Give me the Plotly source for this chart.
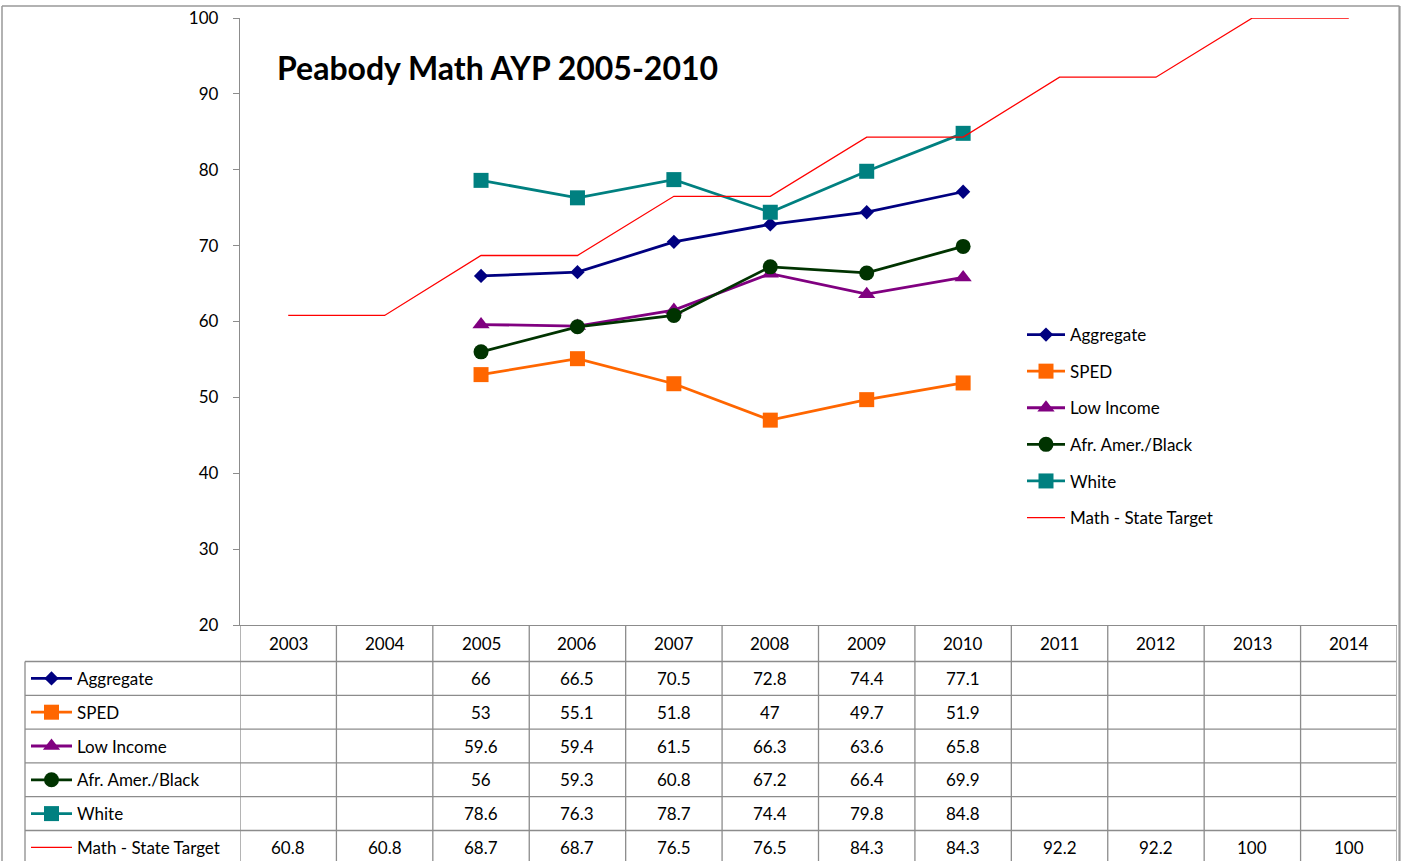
import plotly.graph_objects as go

# ---------------- data ----------------
years = ["2003", "2004", "2005", "2006", "2007", "2008", "2009", "2010",
         "2011", "2012", "2013", "2014"]
aggregate = [None, None, 66, 66.5, 70.5, 72.8, 74.4, 77.1, None, None, None, None]
sped = [None, None, 53, 55.1, 51.8, 47, 49.7, 51.9, None, None, None, None]
low_income = [None, None, 59.6, 59.4, 61.5, 66.3, 63.6, 65.8, None, None, None, None]
afr_amer = [None, None, 56, 59.3, 60.8, 67.2, 66.4, 69.9, None, None, None, None]
white = [None, None, 78.6, 76.3, 78.7, 74.4, 79.8, 84.8, None, None, None, None]
state_target = [60.8, 60.8, 68.7, 68.7, 76.5, 76.5, 84.3, 84.3, 92.2, 92.2, 100, 100]

series_names = ["Aggregate", "SPED", "Low Income", "Afr. Amer./Black", "White",
                "Math - State Target"]
series_values = [aggregate, sped, low_income, afr_amer, white, state_target]
y_ticks = [20, 30, 40, 50, 60, 70, 80, 90, 100]
title_text = "Peabody Math AYP 2005-2010"

# ---------------- styles ----------------
colors = ["#000080", "#FF6600", "#800080", "#003300", "#008080", "#FF0000"]
symbols = ["diamond", "square", "triangle-up", "circle", "square", None]
msizes = [11, 15, 15, 15, 15, 0]
lwidths = [2.8, 2.8, 2.8, 2.8, 2.8, 1.3]

W, H = 1403, 861
FONT = "Lato"
GRID = "#8C8C8C"


def py(p):
    return 1 - p / H


plot_left, plot_right, plot_top, plot_bottom = 240, 1397, 18, 625
header_bottom = 661.5
row_h = 33.8
table_left = 25
table_right = 1396

fig = go.Figure()

# main series
for name, vals, c, s, ms, lw in zip(series_names, series_values, colors, symbols,
                                    msizes, lwidths):
    if s is None:
        fig.add_trace(go.Scatter(x=years, y=vals, name=name, mode="lines",
                                 line=dict(color=c, width=lw),
                                 legendgroup=name, hoverinfo="skip"))
    else:
        fig.add_trace(go.Scatter(x=years, y=vals, name=name, mode="lines+markers",
                                 line=dict(color=c, width=lw),
                                 marker=dict(symbol=s, size=ms, color=c),
                                 legendgroup=name, hoverinfo="skip"))

# keys in the data table (drawn on a full-page pixel axis pair)
key_x0, key_x1 = 31, 72
for i, (name, c, s, ms, lw) in enumerate(zip(series_names, colors, symbols, msizes,
                                             lwidths)):
    yc = header_bottom + row_h * (i + 0.5)
    fig.add_trace(go.Scatter(x=[key_x0, key_x1], y=[yc, yc], mode="lines", xaxis="x2",
                             yaxis="y2", line=dict(color=c, width=lw), showlegend=False,
                             hoverinfo="skip", cliponaxis=False))
    if s is not None:
        fig.add_trace(go.Scatter(x=[(key_x0 + key_x1) / 2], y=[yc], mode="markers",
                                 xaxis="x2", yaxis="y2",
                                 marker=dict(symbol=s, size=ms, color=c, opacity=1),
                                 showlegend=False, hoverinfo="skip", cliponaxis=False))

shapes = []
annotations = []

# outer chart border
border = dict(color="#999999", width=1.5)
shapes.append(dict(type="line", xref="paper", yref="paper", x0=2 / W, x1=1399.5 / W,
                   y0=py(6), y1=py(6), line=border))
shapes.append(dict(type="line", xref="paper", yref="paper", x0=2 / W, x1=2 / W,
                   y0=py(6), y1=py(880), line=border))
shapes.append(dict(type="line", xref="paper", yref="paper", x0=1399.5 / W, x1=1399.5 / W,
                   y0=py(6), y1=py(880), line=dict(color="#999999", width=2.2)))

# table grid
n_rows = len(series_names)
grid_line = dict(color=GRID, width=1.3)
table_bottom = header_bottom + row_h * n_rows
for k in range(len(years) + 1):
    shapes.append(dict(type="line", xref="x", yref="paper", x0=k - 0.5, x1=k - 0.5,
                       y0=py(plot_bottom), y1=py(table_bottom), line=grid_line))
shapes.append(dict(type="line", xref="paper", yref="paper", x0=table_left / W,
                   x1=table_left / W, y0=py(header_bottom), y1=py(table_bottom),
                   line=grid_line))
for r in range(n_rows + 1):
    yy = header_bottom + row_h * r
    shapes.append(dict(type="line", xref="paper", yref="paper", x0=table_left / W,
                       x1=table_right / W, y0=py(yy), y1=py(yy), line=grid_line))

tfont = dict(family=FONT, size=17, color="#000000")
# header years (category index positions on the x axis)
for k, yr in enumerate(years):
    annotations.append(dict(text=yr, x=k, xref="x", y=py((plot_bottom + header_bottom) / 2),
                            yref="paper", showarrow=False, font=tfont,
                            xanchor="center", yanchor="middle"))
# rows
for i, (name, vals) in enumerate(zip(series_names, series_values)):
    yc = header_bottom + row_h * (i + 0.5)
    annotations.append(dict(text=name, x=75 / W, xref="paper", y=py(yc), yref="paper",
                            showarrow=False, font=tfont, xanchor="left",
                            yanchor="middle"))
    for k, v in enumerate(vals):
        if v is None:
            continue
        annotations.append(dict(text=f"{v:g}", x=k, xref="x", y=py(yc), yref="paper",
                                showarrow=False, font=tfont, xanchor="center",
                                yanchor="middle"))

# title
annotations.append(dict(text="<b>" + title_text + "</b>", x=275 / W, xref="paper",
                        y=py(67), yref="paper", showarrow=False, xanchor="left",
                        yanchor="middle",
                        font=dict(family=FONT, size=32, color="#000000")))

fig.update_layout(
    width=W, height=H,
    margin=dict(l=0, r=0, t=0, b=0, pad=0, autoexpand=False),
    paper_bgcolor="white", plot_bgcolor="rgba(0,0,0,0)",
    showlegend=True,
    legend=dict(x=1022 / W, y=py(317), xanchor="left", yanchor="top",
                font=dict(family=FONT, size=17, color="#000000"),
                bgcolor="rgba(0,0,0,0)", tracegroupgap=11.5, traceorder="grouped",
                itemwidth=38),
    xaxis=dict(domain=[plot_left / W, plot_right / W], type="category",
               categoryorder="array", categoryarray=years, range=[-0.5, len(years) - 0.5],
               showticklabels=False, ticks="", showgrid=False, zeroline=False,
               showline=True, linecolor=GRID, linewidth=1.3, fixedrange=True,
               automargin=False),
    yaxis=dict(domain=[py(plot_bottom), py(plot_top)], range=[20, 100],
               tickvals=y_ticks, ticks="outside", ticklen=6, tickcolor=GRID,
               tickwidth=1.3, showline=True, linecolor=GRID, linewidth=1.3,
               showgrid=False, zeroline=False, ticklabelstandoff=11,
               tickfont=dict(family=FONT, size=17, color="#000000"), fixedrange=True,
               automargin=False),
    xaxis2=dict(domain=[0, 1], range=[0, W], visible=False, anchor="y2",
                fixedrange=True, automargin=False),
    yaxis2=dict(domain=[0, 1], range=[H, 0], visible=False, anchor="x2",
                fixedrange=True, automargin=False),
    shapes=shapes,
    annotations=annotations,
)

fig.write_html("out.html", config={"displayModeBar": False},
               post_script="document.body.style.margin='0';document.body.style.overflow='hidden';")
